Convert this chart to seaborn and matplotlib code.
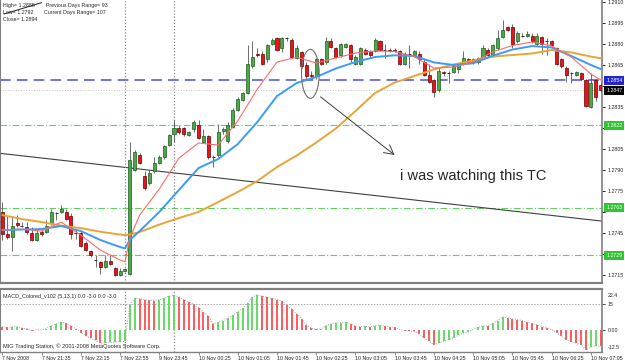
import numpy as np
import matplotlib
matplotlib.use("Agg")
import matplotlib.pyplot as plt
import matplotlib.transforms as mtransforms
from matplotlib.patches import Ellipse
import seaborn as sns

W, H = 625, 363

# 5 minute bars from left to right
OPENS = [
    1.2760, 1.2744, 1.2742, 1.2752, 1.2750, 1.2749, 1.2745, 1.2740, 1.2746, 1.2746,
    1.2752, 1.2759, 1.2760, 1.2760, 1.2757, 1.2745, 1.2745, 1.2738, 1.2732, 1.2726,
    1.2724, 1.2721, 1.2725, 1.2720, 1.2715, 1.2718, 1.2716, 1.2790, 1.2801, 1.2786,
    1.2781, 1.2789, 1.2795, 1.2799, 1.2808, 1.2816, 1.2820, 1.2820, 1.2815, 1.2819,
    1.2822, 1.2810, 1.2814, 1.2799, 1.2801, 1.2818, 1.2811, 1.2821, 1.2833, 1.2840,
    1.2845, 1.2864, 1.2873, 1.2873, 1.2869, 1.2880, 1.2884, 1.2877, 1.2884, 1.2883,
    1.2870, 1.2874, 1.2865, 1.2858, 1.2857, 1.2869, 1.2867, 1.2882, 1.2877, 1.2872,
    1.2878, 1.2879, 1.2866, 1.2866, 1.2876, 1.2875, 1.2875, 1.2882, 1.2876, 1.2876,
    1.2876, 1.2875, 1.2866, 1.2873, 1.2872, 1.2873, 1.2867, 1.2858, 1.2854, 1.2847,
    1.2860, 1.2859, 1.2860, 1.2862, 1.2866, 1.2869, 1.2869, 1.2867, 1.2870, 1.2876,
    1.2872, 1.2877, 1.2885, 1.2892, 1.2892, 1.2882, 1.2886, 1.2886, 1.2886, 1.2880,
    1.2885, 1.2882, 1.2882, 1.2877, 1.2869, 1.2863, 1.2859, 1.2858, 1.2859, 1.2854,
    1.2835, 1.2854, 1.2851,
]
CLOSES = [
    1.2744, 1.2742, 1.2750, 1.2751, 1.2750, 1.2746, 1.2740, 1.2745, 1.2744, 1.2750,
    1.2760, 1.2759, 1.2762, 1.2755, 1.2744, 1.2745, 1.2736, 1.2733, 1.2729, 1.2726,
    1.2721, 1.2725, 1.2723, 1.2715, 1.2718, 1.2719, 1.2797, 1.2803, 1.2795, 1.2777,
    1.2788, 1.2795, 1.2799, 1.2807, 1.2815, 1.2820, 1.2817, 1.2816, 1.2817, 1.2824,
    1.2813, 1.2814, 1.2799, 1.2799, 1.2817, 1.2819, 1.2822, 1.2833, 1.2841, 1.2845,
    1.2866, 1.2871, 1.2872, 1.2866, 1.2879, 1.2883, 1.2876, 1.2884, 1.2884, 1.2871,
    1.2877, 1.2864, 1.2857, 1.2857, 1.2869, 1.2866, 1.2882, 1.2878, 1.2871, 1.2880,
    1.2880, 1.2869, 1.2871, 1.2877, 1.2873, 1.2872, 1.2883, 1.2876, 1.2876, 1.2875,
    1.2875, 1.2866, 1.2873, 1.2873, 1.2875, 1.2869, 1.2858, 1.2853, 1.2846, 1.2861,
    1.2859, 1.2859, 1.2864, 1.2865, 1.2870, 1.2867, 1.2867, 1.2870, 1.2877, 1.2872,
    1.2879, 1.2884, 1.2890, 1.2890, 1.2880, 1.2888, 1.2886, 1.2887, 1.2882, 1.2886,
    1.2880, 1.2882, 1.2879, 1.2866, 1.2864, 1.2858, 1.2859, 1.2860, 1.2855, 1.2836,
    1.2852, 1.2842, 1.2847,
]
HIGHS = [
    1.2767, 1.2757, 1.2757, 1.2758, 1.2753, 1.2753, 1.2749, 1.2747, 1.2747, 1.2754,
    1.2762, 1.2760, 1.2765, 1.2762, 1.2759, 1.2747, 1.2747, 1.2739, 1.2733, 1.2729,
    1.2725, 1.2729, 1.2729, 1.2721, 1.2720, 1.2720, 1.2810, 1.2804, 1.2802, 1.2789,
    1.2790, 1.2799, 1.2801, 1.2808, 1.2816, 1.2826, 1.2822, 1.2821, 1.2818, 1.2826,
    1.2826, 1.2819, 1.2815, 1.2801, 1.2823, 1.2821, 1.2824, 1.2834, 1.2842, 1.2846,
    1.2879, 1.2882, 1.2877, 1.2875, 1.2880, 1.2884, 1.2885, 1.2885, 1.2885, 1.2884,
    1.2879, 1.2875, 1.2867, 1.2861, 1.2870, 1.2870, 1.2885, 1.2884, 1.2878, 1.2881,
    1.2881, 1.2880, 1.2872, 1.2878, 1.2877, 1.2876, 1.2884, 1.2883, 1.2880, 1.2877,
    1.2877, 1.2876, 1.2874, 1.2879, 1.2876, 1.2875, 1.2869, 1.2866, 1.2855, 1.2863,
    1.2861, 1.2861, 1.2866, 1.2866, 1.2875, 1.2870, 1.2870, 1.2871, 1.2879, 1.2877,
    1.2880, 1.2890, 1.2897, 1.2893, 1.2894, 1.2889, 1.2888, 1.2889, 1.2888, 1.2888,
    1.2886, 1.2884, 1.2883, 1.2878, 1.2870, 1.2864, 1.2860, 1.2861, 1.2860, 1.2855,
    1.2859, 1.2855, 1.2852,
]
LOWS = [
    1.2740, 1.2741, 1.2732, 1.2749, 1.2749, 1.2744, 1.2739, 1.2739, 1.2743, 1.2745,
    1.2751, 1.2754, 1.2759, 1.2754, 1.2741, 1.2741, 1.2735, 1.2732, 1.2728, 1.2721,
    1.2716, 1.2720, 1.2722, 1.2714, 1.2714, 1.2717, 1.2715, 1.2789, 1.2794, 1.2776,
    1.2779, 1.2788, 1.2794, 1.2798, 1.2807, 1.2810, 1.2816, 1.2814, 1.2814, 1.2817,
    1.2812, 1.2809, 1.2798, 1.2792, 1.2799, 1.2816, 1.2809, 1.2820, 1.2832, 1.2839,
    1.2844, 1.2863, 1.2871, 1.2865, 1.2867, 1.2879, 1.2875, 1.2874, 1.2882, 1.2870,
    1.2869, 1.2863, 1.2855, 1.2856, 1.2855, 1.2865, 1.2866, 1.2877, 1.2870, 1.2871,
    1.2877, 1.2867, 1.2865, 1.2865, 1.2872, 1.2871, 1.2874, 1.2875, 1.2870, 1.2874,
    1.2874, 1.2865, 1.2865, 1.2863, 1.2871, 1.2866, 1.2857, 1.2852, 1.2842, 1.2846,
    1.2857, 1.2852, 1.2859, 1.2859, 1.2865, 1.2866, 1.2866, 1.2866, 1.2869, 1.2871,
    1.2871, 1.2876, 1.2884, 1.2889, 1.2877, 1.2881, 1.2885, 1.2885, 1.2881, 1.2879,
    1.2873, 1.2872, 1.2878, 1.2865, 1.2863, 1.2853, 1.2852, 1.2857, 1.2854, 1.2835,
    1.2834, 1.2839, 1.2846,
]

# moving averages, read at every 4th bar
MA_IDX = [0, 4, 8, 12, 16, 20, 24, 25, 26, 28, 32, 36, 40, 44, 48, 52, 56, 60,
          64, 68, 72, 76, 80, 84, 88, 92, 96, 100, 104, 108, 112, 116, 120, 122]
FAST_MA = [1.27471, 1.27478, 1.27464, 1.27528, 1.27435, 1.27328, 1.27257, 1.27245,
           1.27414, 1.27578, 1.27764, 1.27985, 1.28093, 1.28078, 1.28250, 1.28478,
           1.28671, 1.28705, 1.28664, 1.28700, 1.28735, 1.28750, 1.28746, 1.28709,
           1.28628, 1.28635, 1.28671, 1.28743, 1.28789, 1.28814, 1.28786, 1.28707,
           1.28585, 1.28543]
MID_MA = [1.27471, 1.27475, 1.27478, 1.27500, 1.27464, 1.27400, 1.27350, 1.27340,
          1.27400, 1.27464, 1.27600, 1.27757, 1.27914, 1.27978, 1.28085, 1.28243,
          1.28428, 1.28521, 1.28564, 1.28625, 1.28671, 1.28707, 1.28719, 1.28714,
          1.28668, 1.28650, 1.28662, 1.28716, 1.28760, 1.28785, 1.28775, 1.28714,
          1.28650, 1.28621]
SLOW_MA = [1.27578, 1.27550, 1.27528, 1.27503, 1.27485, 1.27459, 1.27439, 1.27435,
           1.27439, 1.27457, 1.27510, 1.27557, 1.27600, 1.27671, 1.27743, 1.27821,
           1.27921, 1.28003, 1.28096, 1.28196, 1.28321, 1.28450, 1.28525, 1.28571,
           1.28618, 1.28653, 1.28682, 1.28710, 1.28721, 1.28732, 1.28757, 1.28739,
           1.28710, 1.28698]

MACD_VALUES = [
    2.0, 1.5, 1.8, 2.0, 1.2, 0.6, -0.3, 0.2, 0.0, 0.8,
    2.5, 3.5, 4.6, 4.0, 2.2, 0.8, -1.5, -3.2, -4.8, -6.0,
    -7.6, -7.4, -7.2, -7.0, -6.8, -6.5, 14.5, 18.5, 18.0, 17.6,
    17.2, 17.0, 17.5, 18.5, 19.5, 20.0, 19.2, 17.5, 16.2, 14.8,
    13.0, 10.5, 8.0, 3.5, 4.5, 5.5, 6.8, 8.5, 10.5, 12.5,
    15.5, 19.0, 20.5, 19.5, 19.0, 18.3, 17.5, 16.8, 14.5, 12.0,
    9.5, 6.5, 3.0, 1.0, 0.5, 0.8, 2.5, 3.5, 4.0, 4.3,
    4.5, 3.5, 2.5, 2.0, 2.2, 1.8, 2.5, 2.8, 2.3, 1.8,
    1.5, 0.2, -0.3, -0.5, -0.8, -2.5, -4.5, -6.5, -8.5, -7.5,
    -6.5, -5.5, -4.5, -3.0, -1.8, -1.0, 0.3, 1.5, 2.5, 2.2,
    4.0, 5.5, 7.5, 7.0, 6.5, 6.0, 5.5, 4.5, 3.8, 3.0,
    2.0, 1.2, 0.3, -1.5, -3.5, -5.5, -6.8, -7.5, -8.5, -11.5,
    -10.0, -9.0, -9.5,
]

TIME_LABELS = ["7 Nov 2008", "7 Nov 21:35", "7 Nov 22:15", "7 Nov 22:55",
               "9 Nov 23:45", "10 Nov 00:25", "10 Nov 01:05", "10 Nov 01:45",
               "10 Nov 02:25", "10 Nov 03:05", "10 Nov 03:45", "10 Nov 04:25",
               "10 Nov 05:05", "10 Nov 05:45", "10 Nov 06:25", "10 Nov 07:05"]
PRICE_TICKS = [1.2910, 1.2895, 1.2880, 1.2865, 1.2850, 1.2835, 1.2820,
               1.2805, 1.2790, 1.2775, 1.2760, 1.2745, 1.2730, 1.2715]
# tick labels that sit under a level box on the price scale
HIDDEN_TICKS = [1.2850, 1.2820, 1.2760, 1.2730]
DAY_SEPARATORS = [25, 35]
BLUE_LEVEL = 1.2854
BID_LEVEL = 1.2847
GREEN_LEVELS = [1.2822, 1.2763, 1.2729]
TREND_X = [-0.47, 122.26]
TREND_Y = [1.28019, 1.27535]
TOP_LINE_X = [0.35, 8.03]
TOP_LINE_Y = [1.29014, 1.29095]
CIRCLE_CENTER = (62.8, 1.28587)
ARROW_FROM = (64.42, 1.28435)
ARROW_TO = (80.41, 1.27995)

sns.set_theme(style="white")
plt.rcParams["font.family"] = ["Liberation Sans", "DejaVu Sans"]

GRAY = "#808080"
SMALL = 3.8


def at(x, y):
    return x / W, 1 - y / H


fig = plt.figure(figsize=(W / 100, H / 100), dpi=100)
fig.patch.set_facecolor("white")
ax = fig.add_axes([0, 1 - 283 / H, 602 / W, 283 / H])
axm = fig.add_axes([0, 1 - 352 / H, 602 / W, 63 / H])

o = np.array(OPENS)
c = np.array(CLOSES)
hi = np.array(HIGHS)
lo = np.array(LOWS)
idx = np.arange(len(o))

# ---------------- price window ----------------
ax.set_xlim(-0.47, 122.26)
ax.set_ylim(1.27093, 1.29114)

for lvl in GREEN_LEVELS:
    ax.axhline(lvl, color="#5fcf5f", lw=0.8, dashes=(6, 2, 1, 2), zorder=1)
ax.axhline(BLUE_LEVEL, color="#4b4bdc", lw=1.1, dashes=(7, 4), zorder=1)
ax.axhline(BID_LEVEL, color="#c0c0c0", lw=0.7, ls=":", zorder=1)
ax.plot(TREND_X, TREND_Y, color="#404040", lw=0.8, zorder=2)
ax.plot(TOP_LINE_X, TOP_LINE_Y, color="#202020", lw=0.7, zorder=2)

ax.vlines(idx, lo, hi, color="#555555", lw=0.6, zorder=3)
bull = c > o
bear = c < o
doji = ~(bull | bear)
ax.bar(idx[bull], (c - o)[bull], bottom=o[bull], width=0.62,
       color="#4aa84a", edgecolor="#1c5c1c", linewidth=0.5, zorder=4)
ax.bar(idx[bear], (o - c)[bear], bottom=c[bear], width=0.62,
       color="#e8141c", edgecolor="#6a0000", linewidth=0.5, zorder=4)
ax.hlines(o[doji], idx[doji] - 0.31, idx[doji] + 0.31, color="#303030",
          lw=0.7, zorder=4)

sns.lineplot(x=MA_IDX, y=SLOW_MA, ax=ax, color="#e6a636", linewidth=1.4, zorder=5)
sns.lineplot(x=MA_IDX, y=MID_MA, ax=ax, color="#3d9bf5", linewidth=1.4, zorder=5)
sns.lineplot(x=MA_IDX, y=FAST_MA, ax=ax, color="#ff6a6a", linewidth=0.8, zorder=6)

ax.add_patch(Ellipse(CIRCLE_CENTER, 3.6, 0.0035, fill=False,
                     ec="#707070", lw=0.8, zorder=7))
ax.annotate("", xy=ARROW_TO, xytext=ARROW_FROM,
            arrowprops=dict(arrowstyle="->,head_length=0.55,head_width=0.3",
                            color="#404040", lw=0.7), zorder=7)

for sep in DAY_SEPARATORS:
    ax.axvline(sep, color="#8a8a8a", lw=0.9, ls=(0, (1, 1.5)), zorder=2)
    axm.axvline(sep, color="#8a8a8a", lw=0.9, ls=(0, (1, 1.5)), zorder=2)

ax.yaxis.tick_right()
ax.set_yticks(PRICE_TICKS)
ax.set_yticklabels(["" if p in HIDDEN_TICKS else f"{p:.4f}" for p in PRICE_TICKS])
ax.tick_params(axis="y", length=2.5, width=0.6, color="black",
               labelsize=SMALL, pad=1.5, right=True)
ax.set_xticks([])
ax.set_xlabel("")
ax.set_ylabel("")
for side in ["left", "right", "bottom"]:
    ax.spines[side].set_color(GRAY)
ax.spines["left"].set_linewidth(1.5)
ax.spines["right"].set_linewidth(1.2)
ax.spines["bottom"].set_linewidth(1.6)
ax.spines["top"].set_visible(False)

blend = mtransforms.blended_transform_factory(ax.transAxes, ax.transData)
boxes = [(BLUE_LEVEL, "#2424d0"), (BID_LEVEL, "#000000")] + \
        [(lvl, "#33c433") for lvl in GREEN_LEVELS]
for val, fc in boxes:
    ax.text(1.007, val, f"{val:.4f}", transform=blend, ha="left", va="center",
            fontsize=SMALL, color="white", clip_on=False, zorder=10,
            bbox=dict(boxstyle="square,pad=0.35", fc=fc, ec="none"))

# ---------------- MACD window ----------------
vals = np.array(MACD_VALUES)
rising = np.r_[False, np.diff(vals) > 0]
axm.set_xlim(-0.47, 122.26)
axm.set_ylim(-12.7, 23.7)
axm.axhline(15, color="#a8a8a8", lw=0.7, ls=(0, (1.5, 1.5)), zorder=1)
axm.vlines(idx[rising], 0, vals[rising], color="#5ad85a", lw=1.3, zorder=3)
axm.vlines(idx[~rising], 0, vals[~rising], color="#ff4d4d", lw=1.3, zorder=3)
axm.plot(idx, vals, color="#a0a0a0", lw=0.7, ls=(0, (1, 1.5)), zorder=4)

axm.yaxis.tick_right()
axm.set_yticks([15, 0])
axm.set_yticklabels(["15", "0.00"])
axm.tick_params(axis="y", length=2.5, width=0.6, labelsize=SMALL, pad=1.5, right=True)
axm.set_xticks(list(range(0, 8 * len(TIME_LABELS), 8)))
axm.set_xticklabels(TIME_LABELS, ha="left")
axm.tick_params(axis="x", length=2, width=0.6, color=GRAY, labelsize=SMALL,
                pad=1, bottom=True)
for side in ["left", "right", "bottom", "top"]:
    axm.spines[side].set_color(GRAY)
axm.spines["top"].set_linewidth(1.6)
axm.spines["left"].set_linewidth(1.5)
axm.spines["right"].set_linewidth(1.2)
axm.spines["bottom"].set_linewidth(1.0)

axm.annotate("22.4", xy=(1.0, 1.0), xycoords="axes fraction", xytext=(4, -3),
             textcoords="offset points", ha="left", va="top", fontsize=SMALL,
             annotation_clip=False)
axm.annotate("-12.5", xy=(1.0, 0.0), xycoords="axes fraction", xytext=(4, 1.5),
             textcoords="offset points", ha="left", va="bottom", fontsize=SMALL,
             annotation_clip=False)

# ---------------- texts ----------------
fig.text(*at(3.3, 5), "High= 1.2885", fontsize=SMALL, va="center")
fig.text(*at(46, 5), "Previous Days Range= 93", fontsize=SMALL, va="center")
fig.text(*at(3.3, 12.3), "Low= 1.2792", fontsize=SMALL, va="center")
fig.text(*at(44.5, 12.3), "Current Days Range= 107", fontsize=SMALL, va="center")
fig.text(*at(3.3, 19.5), "Close= 1.2894", fontsize=SMALL, va="center")
fig.text(*at(400, 176), "i was watching this TC", fontsize=10.5, va="center")
fig.text(*at(3, 296.5), "MACD_Colored_v102 (5,13,1) 0.0 -3.0 0.0 -3.0",
         fontsize=3.9, va="center")
fig.text(*at(3, 346.5), "MIG Trading Station, \u00a9 2001-2008 MetaQuotes Software Corp.",
         fontsize=4.1, va="center")

fig.savefig("out.png", dpi=100, facecolor="white")
